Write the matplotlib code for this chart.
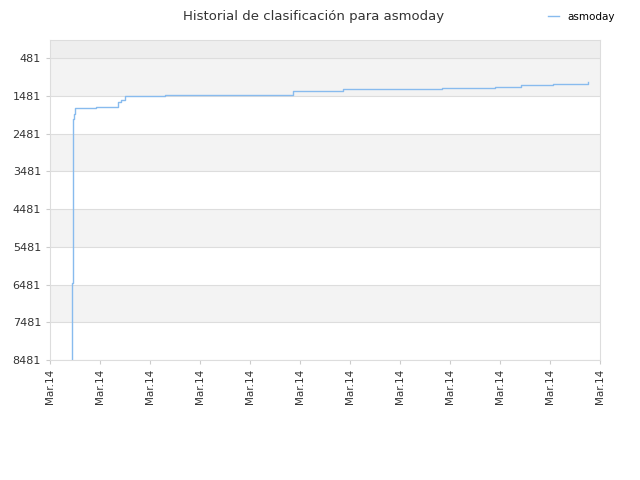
import matplotlib
matplotlib.use("Agg")
import matplotlib.pyplot as plt

# position in tick units (0..11) and ranking
pos = [0.44, 0.44, 0.45, 0.46, 0.47, 0.50, 0.90, 0.92, 1.30, 1.36, 1.42, 1.50,
       2.30, 3.00, 4.84, 4.86, 5.86, 7.84, 8.90, 9.40, 9.42, 10.06, 10.74, 10.76]
rank = [8481, 6450, 2500, 2100, 1950, 1810, 1810, 1770, 1770, 1650, 1580, 1490,
        1470, 1470, 1470, 1340, 1310, 1280, 1250, 1250, 1200, 1170, 1170, 1120]
xticks = list(range(12))
xlabels = ["Mar.14"] * 12
yticks = [481, 1481, 2481, 3481, 4481, 5481, 6481, 7481, 8481]

fig = plt.figure(figsize=(6.4, 4.8), dpi=100)
ax = fig.add_axes([50/640, 120/480, 550/640, 320/480])

# background bands
ax.axhspan(0, 481, color="#eeeeee", lw=0)
for i in range(len(yticks) - 1):
    if i % 2 == 0:
        ax.axhspan(yticks[i], yticks[i+1], color="#f3f3f3", lw=0)
for t in yticks:
    ax.axhline(t, color="#dddddd", lw=0.8)

ax.step(pos, rank, where="post", color="#88bbee", lw=1, label="asmoday")

ax.set_xlim(0, 11)
ax.set_ylim(8481, 0)
ax.set_xticks(xticks)
ax.set_xticklabels(xlabels, rotation=90, fontsize=7.5, color="#333333")
ax.set_yticks(yticks)
ax.set_yticklabels([str(t) for t in yticks], fontsize=8, color="#333333")
ax.tick_params(length=3, color="#cccccc")
for s in ax.spines.values():
    s.set_color("#dddddd")

fig.text(0.49, 0.965, "Historial de clasificación para asmoday", ha="center",
         va="center", fontsize=9.5, color="#333333")
fig.legend(loc="upper right", bbox_to_anchor=(0.975, 0.995), frameon=False,
           fontsize=7.5, handlelength=1)

fig.savefig("out.png")
